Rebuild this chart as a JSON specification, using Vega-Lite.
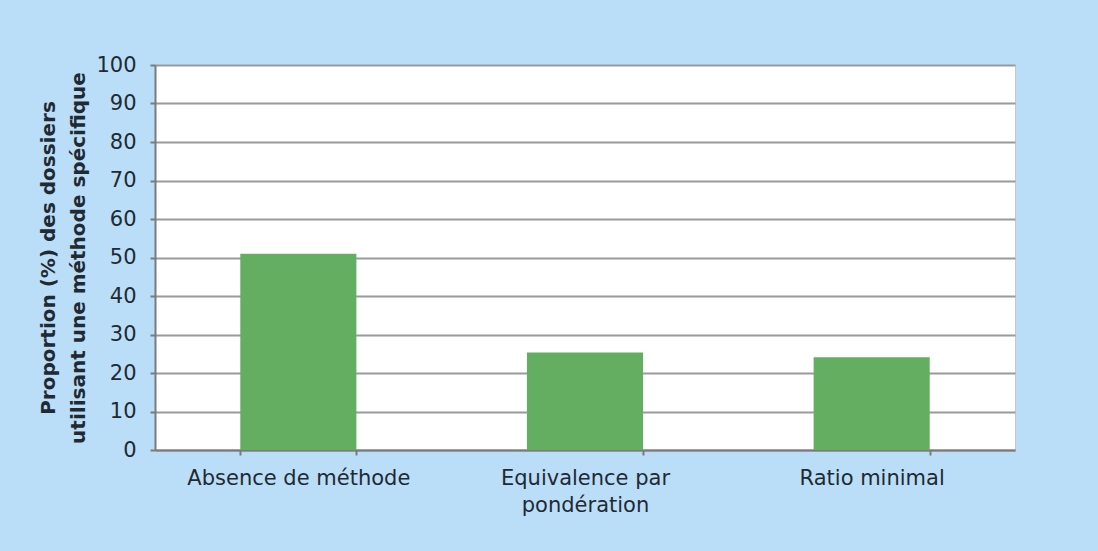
{
  "$schema": "https://vega.github.io/schema/vega-lite/v6.json",
  "autosize": {"type": "none"},
  "padding": {"left": 155, "top": 65, "right": 83, "bottom": 101},
  "width": 860,
  "height": 385,
  "background": "#bbdef8",
  "data": {"values": [
    {"methode": "Absence de méthode", "proportion": 51},
    {"methode": "Equivalence par pondération", "proportion": 25.3},
    {"methode": "Ratio minimal", "proportion": 24.1}
  ]},
  "mark": {"type": "bar", "color": "#64ae62"},
  "encoding": {
    "x": {
      "field": "methode", "type": "nominal", "sort": null,
      "scale": {"paddingInner": 0.595, "paddingOuter": 0.2975},
      "axis": {
        "title": null, "labelAngle": 0, "labelFont": "DejaVu Sans", "labelFontSize": 21,
        "labelLimit": 0,
        "labelColor": "#1f2a33", "labelPadding": 12, "tickBand": "extent", "tickSize": 5,
        "tickColor": "#7a7a7a", "tickWidth": 2, "domainColor": "#7a7a7a", "domainWidth": 2,
        "labelExpr": "datum.value == 'Equivalence par pondération' ? ['Equivalence par', 'pondération'] : datum.value",
        "labelLineHeight": 27
      }
    },
    "y": {
      "field": "proportion", "type": "quantitative",
      "scale": {"domain": [0, 100]},
      "axis": {
        "values": [0, 10, 20, 30, 40, 50, 60, 70, 80, 90, 100],
        "title": ["Proportion (%) des dossiers", "utilisant une méthode spécifique"],
        "titleFont": "DejaVu Sans", "titleFontSize": 20, "titleFontWeight": "bold",
        "titleColor": "#1f2a33", "titleLineHeight": 30, "titlePadding": 7,
        "labelFont": "DejaVu Sans", "labelFontSize": 21, "labelColor": "#1f2a33",
        "labelPadding": 14, "tickSize": 5, "tickColor": "#7a7a7a", "tickWidth": 2,
        "domainColor": "#7a7a7a", "domainWidth": 2,
        "gridColor": "#9a9a9a", "gridWidth": 2
      }
    }
  },
  "config": {"view": {"fill": "white", "stroke": "#c8c8c8", "strokeWidth": 1}}
}
